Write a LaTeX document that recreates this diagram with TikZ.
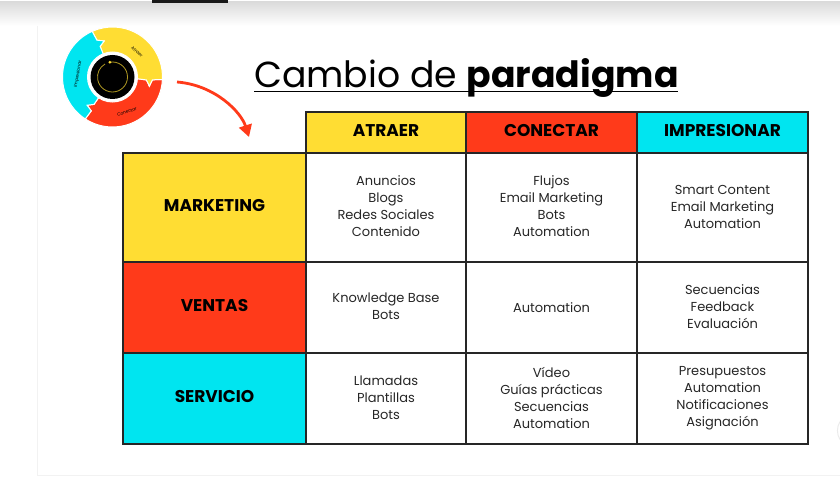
\documentclass[tikz,border=0pt]{standalone}
\usepackage{fontspec}
\setmainfont{Poppins}
\usetikzlibrary{arrows.meta}
\definecolor{amarillo}{HTML}{FFDD33}
\definecolor{rojo}{HTML}{FF3A1A}
\definecolor{celeste}{HTML}{00E5F0}
\tikzset{
  celda/.style={draw=black!85,line width=1.6pt,align=center,inner sep=0pt,
    font=\fontsize{13}{17}\selectfont,text=black!85,
    execute at begin node={\rule[-2pt]{0pt}{14pt}},
    execute at end node={\rule[-2pt]{0pt}{14pt}}},
  cabecera/.style={draw=black!85,line width=1.6pt,align=center,inner sep=0pt,
    font=\fontsize{17}{17}\selectfont\bfseries,text=black,
    execute at begin node={\rule[-4.5pt]{0pt}{17.5pt}}},
  sector/.style={draw=white,line width=1pt},
  rotulo/.style={font=\fontsize{4.4}{5}\selectfont,text=black}
}
\begin{document}
\begin{tikzpicture}[x=1pt,y=-1pt]
    \useasboundingbox (0,0) rectangle (840,494);
    % fondo
    \shade[top color=black!14,bottom color=white] (0,2) rectangle (840,26);
    \fill[black!90] (152,0) rectangle (228,3);
    \draw[black!5] (37,26) -- (37,475) -- (840,475);
    \draw[black!8,line width=1pt] (840,421.6) arc[start angle=148,end angle=212,radius=17pt];
    % rueda
    \begin{scope}[shift={(112.5,77)},y=1pt]
        \fill[white] (0,0) circle[radius=51pt];
        \draw[sector,fill=rojo] (-3:50) arc[start angle=-3,end angle=-123,radius=50pt]
            -- (-122:40) -- (-132:38) -- (-124:33) -- (-124:25)
            arc[start angle=-124,end angle=-4,radius=25pt]
            -- (-5:34) -- (-14:38) -- (-4:40) -- cycle;
        \draw[sector,fill=amarillo] (-3:50) arc[start angle=-3,end angle=114,radius=50pt]
            -- (113:40) -- (103:37) -- (112:33) -- (112:25)
            arc[start angle=112,end angle=-4,radius=25pt]
            -- (-5:34) -- (-14:38) -- (-4:40) -- cycle;
        \draw[sector,fill=celeste] (114:50) arc[start angle=114,end angle=237,radius=50pt]
            -- (-122:40) -- (-132:38) -- (-124:33) -- (-124:25)
            arc[start angle=236,end angle=112,radius=25pt]
            -- (112:33) -- (103:37) -- (113:40) -- cycle;
        \fill[black] (0,0) circle[radius=22pt];
        \draw[amarillo!70!black,line width=0.8pt] (100:15) arc[start angle=100,end angle=-240,radius=15pt];
        \fill[amarillo] (100:15) circle[radius=1.5pt];
    \end{scope}
    \node[rotulo,rotate=-40] (atraer) at (137,52) {Atraer};
    \node[rotulo,rotate=20] (conectar) at (127,112) {Conectar};
    \node[rotulo,rotate=80] (impresionar) at (78,74) {Impresionar};
    % flecha
    \coordinate (inicio) at (177,82);
    \coordinate (fin) at (249,137);
    \draw[rojo,line width=2.8pt,-{Triangle[length=12pt,width=13pt]}] (inicio) .. controls (215,85) and (241,112) .. (fin);
    % titulo
    \node[anchor=base west,inner sep=0pt,font=\fontsize{36.2}{40}\selectfont] (titulo) at (254,88) {Cambio de \textbf{paradigma}};
    \coordinate (subA) at (254,91.5);
    \coordinate (subB) at (678,91.5);
    \draw[black,line width=1.6pt] (subA) -- (subB);
    % cabeceras
    \node[cabecera,fill=amarillo,minimum width=160pt,minimum height=41pt] (atr) at (386,132.5) {ATRAER};
    \node[cabecera,fill=rojo,minimum width=171pt,minimum height=41pt] (con) at (551.5,132.5) {CONECTAR};
    \node[cabecera,fill=celeste,minimum width=171pt,minimum height=41pt] (imp) at (722.5,132.5) {IMPRESIONAR};
    \node[cabecera,fill=amarillo,minimum width=183pt,minimum height=109pt] (mar) at (214.5,207.5) {MARKETING};
    \node[cabecera,fill=rojo,minimum width=183pt,minimum height=91pt] (ven) at (214.5,307.5) {VENTAS};
    \node[cabecera,fill=celeste,minimum width=183pt,minimum height=91pt] (ser) at (214.5,398.5) {SERVICIO};
    % marketing
    \node[celda,minimum width=160pt,minimum height=109pt] (marA) at (386,207.5) {Anuncios\\Blogs\\Redes Sociales\\Contenido};
    \node[celda,minimum width=171pt,minimum height=109pt] (marC) at (551.5,207.5) {Flujos\\Email Marketing\\Bots\\Automation};
    \node[celda,minimum width=171pt,minimum height=109pt] (marI) at (722.5,207.5) {Smart Content\\Email Marketing\\Automation};
    % ventas
    \node[celda,minimum width=160pt,minimum height=91pt] (venA) at (386,307.5) {Knowledge Base\\Bots};
    \node[celda,minimum width=171pt,minimum height=91pt] (venC) at (551.5,307.5) {Automation};
    \node[celda,minimum width=171pt,minimum height=91pt] (venI) at (722.5,307.5) {Secuencias\\Feedback\\Evaluación};
    % servicio
    \node[celda,minimum width=160pt,minimum height=91pt] (serA) at (386,398.5) {Llamadas\\Plantillas\\Bots};
    \node[celda,minimum width=171pt,minimum height=91pt] (serC) at (551.5,398.5) {Vídeo\\Guías prácticas\\Secuencias\\Automation};
    \node[celda,minimum width=171pt,minimum height=91pt] (serI) at (722.5,398.5) {Presupuestos\\Automation\\Notificaciones\\Asignación};
\end{tikzpicture}
\end{document}
